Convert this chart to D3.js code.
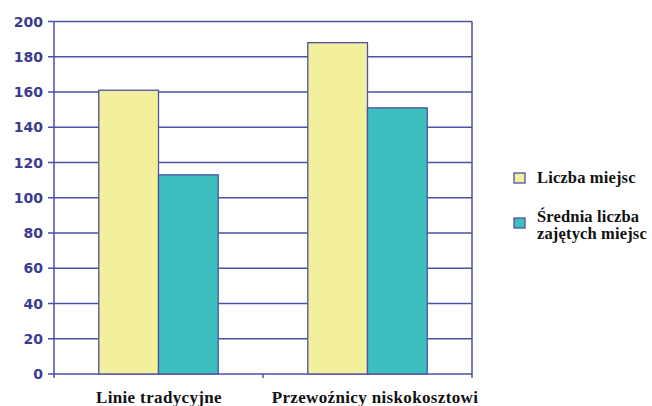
<!DOCTYPE html>
<html>
<head>
<meta charset="utf-8">
<script src="https://cdn.jsdelivr.net/npm/d3@7"></script>
<style>
  body { margin: 0; background: #fff; }
</style>
</head>
<body>
<svg id="chart" width="652" height="406"></svg>
<script>
const categories = ['Linie tradycyjne', 'Przewoźnicy niskokosztowi'];
const seriesNames = ['Liczba miejsc', 'Średnia liczba zajętych miejsc'];
const seatCount = [161, 188];
const avgOccupied = [113, 151];
const yTicks = [0, 20, 40, 60, 80, 100, 120, 140, 160, 180, 200];

const gridColor = '#4f4fa3';
const labelColor = '#3b3b8f';
const colors = ['#f2f09c', '#3dbfc0'];
const serif = '"Liberation Serif", "DejaVu Serif", "Times New Roman", serif';

const svg = d3.select('#chart');
const plot = { left: 54, right: 472, top: 21.5, bottom: 374 };

const x = d3.scaleBand()
  .domain(categories)
  .range([plot.left, plot.right]);

const xInner = d3.scaleBand()
  .domain(seriesNames)
  .range([0, x.bandwidth()])
  .paddingOuter(0.75);

const y = d3.scaleLinear()
  .domain([0, 200])
  .range([plot.bottom, plot.top]);

// grid lines
svg.append('g')
  .selectAll('line')
  .data(yTicks)
  .join('line')
  .attr('x1', plot.left - 6)
  .attr('x2', plot.right)
  .attr('y1', d => y(d))
  .attr('y2', d => y(d))
  .attr('stroke', gridColor)
  .attr('stroke-width', 1.5);

// y tick labels
svg.append('g')
  .selectAll('text')
  .data(yTicks)
  .join('text')
  .attr('x', plot.left - 11)
  .attr('y', d => y(d))
  .attr('dy', '0.36em')
  .attr('text-anchor', 'end')
  .attr('font-family', '"DejaVu Sans", Verdana, sans-serif')
  .attr('font-weight', 'bold')
  .attr('font-size', 14)
  .attr('fill', labelColor)
  .text(d => d);

// bars
const rows = categories.map((c, i) => ({ cat: c, values: [seatCount[i], avgOccupied[i]] }));

const groups = svg.append('g')
  .selectAll('g')
  .data(rows)
  .join('g')
  .attr('transform', d => `translate(${x(d.cat)},0)`);

groups.selectAll('rect')
  .data(d => d.values.map((v, j) => ({ name: seriesNames[j], value: v, j })))
  .join('rect')
  .attr('x', d => xInner(d.name))
  .attr('y', d => y(d.value))
  .attr('width', xInner.bandwidth())
  .attr('height', d => y(0) - y(d.value))
  .attr('fill', d => colors[d.j])
  .attr('stroke', gridColor)
  .attr('stroke-width', 1.3);

// axis lines and category ticks
svg.append('line')
  .attr('x1', plot.left).attr('x2', plot.left)
  .attr('y1', plot.top).attr('y2', plot.bottom + 4)
  .attr('stroke', gridColor).attr('stroke-width', 1.5);

svg.append('line')
  .attr('x1', plot.right).attr('x2', plot.right)
  .attr('y1', plot.top).attr('y2', plot.bottom + 4)
  .attr('stroke', gridColor).attr('stroke-width', 1.5);

svg.append('line')
  .attr('x1', x(categories[1])).attr('x2', x(categories[1]))
  .attr('y1', plot.bottom).attr('y2', plot.bottom + 4)
  .attr('stroke', gridColor).attr('stroke-width', 1.5);

// category labels
svg.append('g')
  .selectAll('text')
  .data(categories)
  .join('text')
  .attr('x', (d, i) => x(d) + x.bandwidth() / 2 + (i === 0 ? 0.5 : 7.5))
  .attr('y', 403)
  .attr('text-anchor', 'middle')
  .attr('font-family', serif)
  .attr('font-weight', 'bold')
  .attr('font-size', 17)
  .attr('letter-spacing', 0.35)
  .attr('fill', '#111')
  .text(d => d);

// legend
const legend = svg.append('g');
const legendItems = [
  { color: colors[0], lines: ['Liczba miejsc'], box: 173, base: 183 },
  { color: colors[1], lines: ['Średnia liczba', 'zajętych miejsc'], box: 218, base: 222 }
];

legendItems.forEach(item => {
  legend.append('rect')
    .attr('x', 514)
    .attr('y', item.box)
    .attr('width', 11)
    .attr('height', 10)
    .attr('fill', item.color)
    .attr('stroke', gridColor)
    .attr('stroke-width', 1.3);

  const t = legend.append('text')
    .attr('x', 537)
    .attr('y', item.base)
    .attr('font-family', serif)
    .attr('font-weight', 'bold')
    .attr('font-size', 16.5)
    .attr('letter-spacing', 0.15)
    .attr('fill', '#111');

  item.lines.forEach((line, k) => {
    t.append('tspan')
      .attr('x', 537)
      .attr('dy', k === 0 ? 0 : 17)
      .text(line);
  });
});
</script>
</body>
</html>
